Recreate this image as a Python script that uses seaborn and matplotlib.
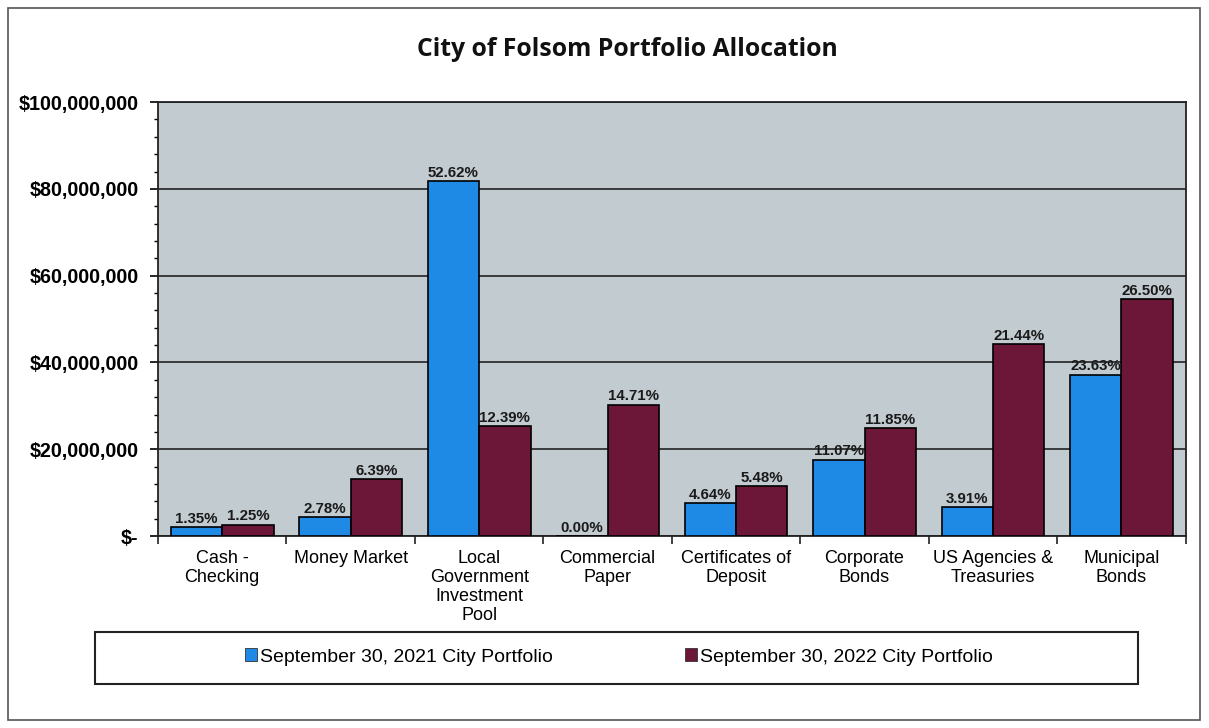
import numpy as np
import pandas as pd
import matplotlib
matplotlib.use("Agg")
import matplotlib.pyplot as plt
import matplotlib.patches as patches
from matplotlib.ticker import FuncFormatter, MultipleLocator, FixedLocator
import seaborn as sns

# Chart data
categories = [
    "Cash -\nChecking",
    "Money Market",
    "Local\nGovernment\nInvestment\nPool",
    "Commercial\nPaper",
    "Certificates of\nDeposit",
    "Corporate\nBonds",
    "US Agencies &\nTreasuries",
    "Municipal\nBonds",
]
periods = ["September 30, 2021 City Portfolio", "September 30, 2022 City Portfolio"]
values_2021 = [2.1e6, 4.4e6, 81.8e6, 0.0, 7.5e6, 17.6e6, 6.6e6, 37.2e6]
values_2022 = [2.6e6, 13.1e6, 25.3e6, 30.3e6, 11.5e6, 24.8e6, 44.2e6, 54.6e6]
pct_2021 = ["1.35%", "2.78%", "52.62%", "0.00%", "4.64%", "11.07%", "3.91%", "23.63%"]
pct_2022 = ["1.25%", "6.39%", "12.39%", "14.71%", "5.48%", "11.85%", "21.44%", "26.50%"]

colors = ["#1f8ae6", "#6c1638"]
plot_bg = "#c2cbd0"


def build_frame():
    """Long-form table for seaborn."""
    df = pd.DataFrame({
        "category": categories * 2,
        "value": values_2021 + values_2022,
        "period": [periods[0]] * len(categories) + [periods[1]] * len(categories),
    })
    return df


def money(v, pos):
    if v == 0:
        return "$-"
    return "${:,.0f}".format(v)


def plot_allocation(df, output_file="out.png"):
    fig = plt.figure(figsize=(12.09, 7.28), dpi=100)
    ax = fig.add_axes([0.1307, 0.2637, 0.850, 0.596])
    ax.set_facecolor(plot_bg)

    sns.barplot(data=df, x="category", y="value", hue="period", palette=colors,
                edgecolor="black", linewidth=1.2, saturation=1, width=0.8,
                legend=False, ax=ax, zorder=3)

    # percentage labels on top of bars
    for cont, labels in zip(ax.containers, [pct_2021, pct_2022]):
        ax.bar_label(cont, labels=labels, padding=1, fontsize=10.8,
                     fontweight="bold", family="Liberation Sans", color="#1a1a1a")

    ax.set_ylim(0, 100e6)
    ax.set_xlim(-0.5, len(categories) - 0.5)
    ax.yaxis.set_major_locator(MultipleLocator(20e6))
    ax.yaxis.set_minor_locator(MultipleLocator(4e6))
    ax.yaxis.set_major_formatter(FuncFormatter(money))
    ax.grid(axis="y", color="#222222", linewidth=1.2, zorder=1)
    ax.set_axisbelow(True)

    # category separators as x ticks
    ax.xaxis.set_minor_locator(FixedLocator(np.arange(-0.5, len(categories), 1.0)))
    ax.tick_params(axis="x", which="major", length=0, pad=10)
    ax.tick_params(axis="x", which="minor", length=6, width=1.2, color="#222222")
    ax.tick_params(axis="y", which="major", length=6, width=1.2, pad=8)
    ax.tick_params(axis="y", which="minor", length=3, width=1)

    for lab in ax.get_xticklabels():
        lab.set_fontsize(13)
        lab.set_family("Liberation Sans")
        lab.set_linespacing(1.15)
    for lab in ax.get_yticklabels():
        lab.set_fontsize(14.2)
        lab.set_family("Liberation Sans")
        lab.set_fontweight("bold")

    ax.set_xlabel("")
    ax.set_ylabel("")
    for side in ["left", "bottom", "right", "top"]:
        ax.spines[side].set_color("#222222")
        ax.spines[side].set_linewidth(1.3)

    # title
    fig.text(0.519, 0.932, "City of Folsom Portfolio Allocation", ha="center", va="center",
             fontsize=17.8, fontweight="bold", family="Open Sans", color="#111111")

    # outer chart border
    fig.patches.append(patches.Rectangle((8 / 1209, 8 / 728), 1192 / 1209, 712 / 728,
                                         transform=fig.transFigure, fill=False,
                                         edgecolor="#555555", linewidth=1.2))
    # legend box
    fig.patches.append(patches.Rectangle((95 / 1209, 1 - 684 / 728), 1043 / 1209, 52 / 728,
                                         transform=fig.transFigure, fill=False,
                                         edgecolor="#222222", linewidth=1.5))
    handles = [patches.Patch(facecolor=c, edgecolor="#333333", linewidth=0.6) for c in colors]
    fig.legend(handles, periods, loc="center", bbox_to_anchor=(0.512, 1 - 657 / 728),
               ncol=2, frameon=False, handlelength=0.6, handleheight=0.6,
               handletextpad=0.15, columnspacing=6.8,
               prop={"family": "Liberation Sans", "size": 14})

    fig.savefig(output_file, dpi=100, facecolor="white")
    print(f"Chart saved to {output_file}")


if __name__ == "__main__":
    df = build_frame()
    plot_allocation(df)
